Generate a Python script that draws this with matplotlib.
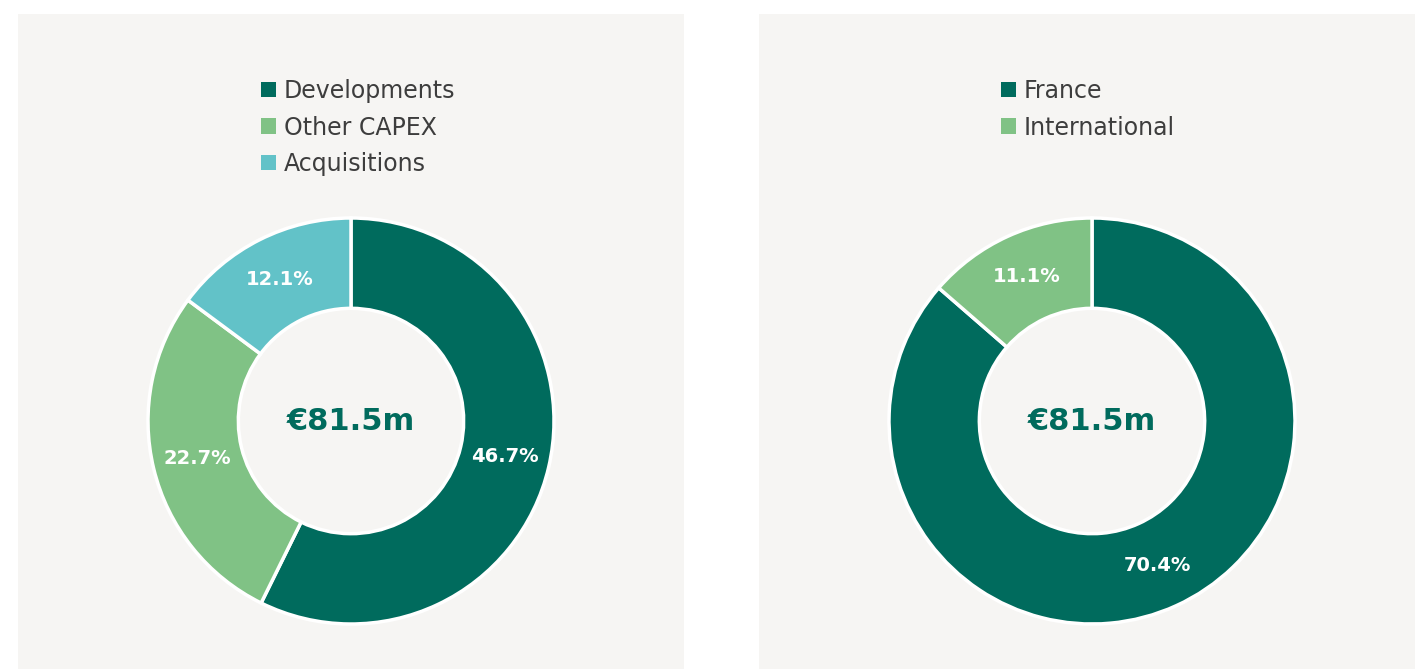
import matplotlib
matplotlib.use("Agg")
import matplotlib.pyplot as plt

plt.rcParams['font.family'] = ['DejaVu Sans']

# data (values in EUR m, labels shown with a % sign as in the source)
capex_labels = ['Developments', 'Other CAPEX', 'Acquisitions']
capex_values = [46.7, 22.7, 12.1]
geo_labels = ['France', 'International']
geo_values = [70.4, 11.1]
total_text = '€81.5m'

dark_green = '#006b5d'
light_green = '#80c285'
teal = '#62c2c8'
panel_bg = '#f6f5f3'
text_grey = '#3d3d3d'

W, H = 1415, 669
fig = plt.figure(figsize=(W / 100, H / 100), dpi=100)
fig.patch.set_facecolor('white')


def px_axes(x0, y0, x1, y1):
    # box given in pixels from top-left
    return fig.add_axes([x0 / W, 1 - y1 / H, (x1 - x0) / W, (y1 - y0) / H])


def donut(panel_box, cx, cy, r, values, labels, colors, legend_x):
    panel = px_axes(*panel_box)
    panel.set_facecolor(panel_bg)
    panel.set_xticks([])
    panel.set_yticks([])
    for s in panel.spines.values():
        s.set_visible(False)

    pad = 8
    ax = px_axes(cx - r - pad, cy - r - pad, cx + r + pad, cy + r + pad)
    ax.set_facecolor('none')
    wedges, texts = ax.pie(values, colors=colors, startangle=90, counterclock=False,
                           labels=[f'{v}%' for v in values], labeldistance=0.78,
                           wedgeprops=dict(width=0.445, edgecolor='white', linewidth=2.5),
                           textprops=dict(color='white', fontsize=14, fontweight='semibold',
                                          ha='center', va='center'))
    for t in texts:
        t.set_ha('center')
    lim = (r + pad) / r
    ax.set_xlim(-lim, lim)
    ax.set_ylim(-lim, lim)
    ax.set_aspect('equal')
    ax.axis('off')
    ax.text(0, 0, total_text, ha='center', va='center', fontsize=22,
            fontweight='bold', color=dark_green)

    leg = fig.legend(wedges, labels, loc='upper left',
                     bbox_to_anchor=(legend_x / W, 1 - 79 / H),
                     frameon=False, fontsize=17, handlelength=0.63, handleheight=0.63,
                     handletextpad=0.34, labelspacing=0.53, borderpad=0, borderaxespad=0)
    for t in leg.get_texts():
        t.set_color(text_grey)
    for h in leg.legend_handles:
        h.set_edgecolor('none')


donut((18, 14, 684, 669), 351, 421, 203, capex_values, capex_labels,
      [dark_green, light_green, teal], 261)
donut((759, 14, 1415, 669), 1092, 421, 203, geo_values, geo_labels,
      [dark_green, light_green], 1001)

fig.savefig('out.png', dpi=100, facecolor='white')
